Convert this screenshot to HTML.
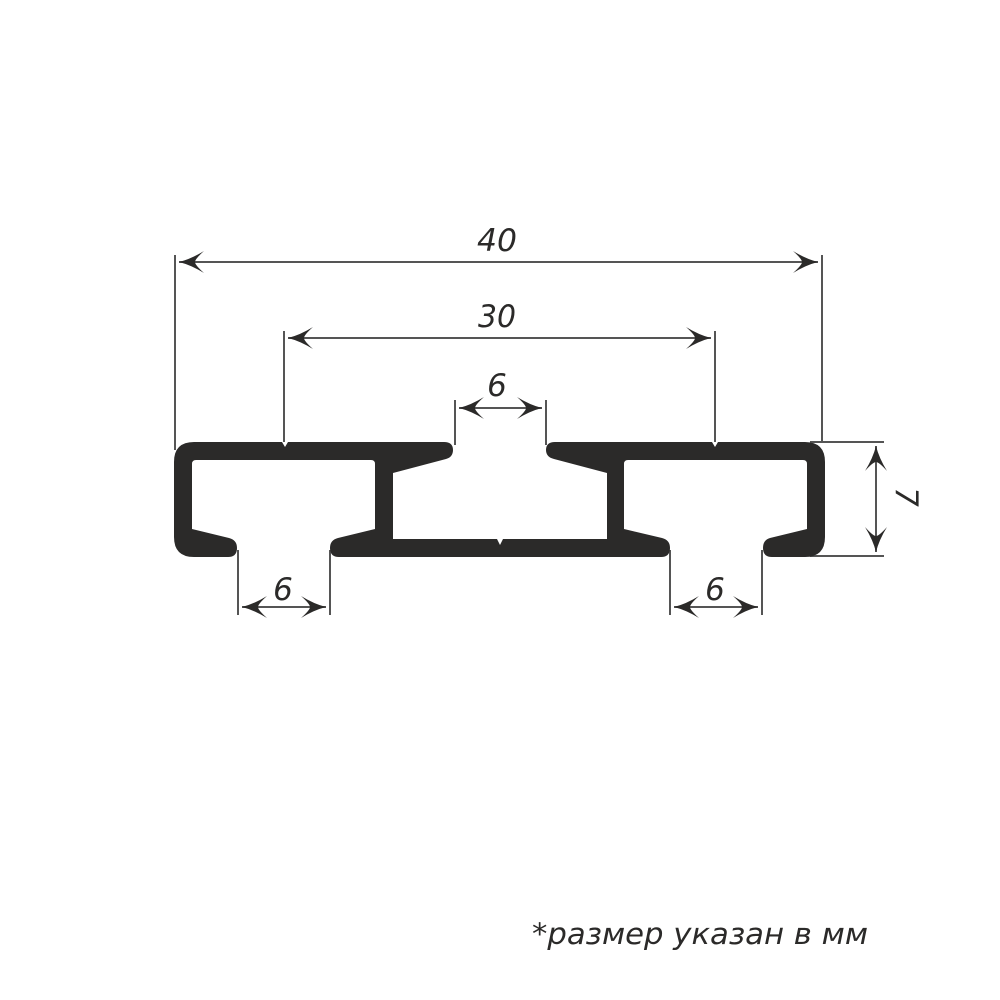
<!DOCTYPE html>
<html><head><meta charset="utf-8"><style>html,body{margin:0;padding:0;background:#fff}svg{display:block}</style></head>
<body>
<svg width="1000" height="1000" viewBox="0 0 1000 1000" xmlns="http://www.w3.org/2000/svg">
<defs>
<path id="ah" d="M0,0 Q12,-3 25,-11 Q16,-3 16,0 Q16,3 25,11 Q12,3 0,0 Z" fill="#2b2a29"/>
</defs>
<g stroke="#555" stroke-width="2" fill="none">
<line x1="175" y1="255" x2="175" y2="450"/>
<line x1="822" y1="255" x2="822" y2="442"/>
<line x1="179" y1="262" x2="818" y2="262"/>
<line x1="284" y1="331" x2="284" y2="442"/>
<line x1="715" y1="331" x2="715" y2="442"/>
<line x1="288" y1="338" x2="711" y2="338"/>
<line x1="455" y1="400" x2="455" y2="445"/>
<line x1="546" y1="400" x2="546" y2="445"/>
<line x1="459" y1="408" x2="542" y2="408"/>
<line x1="238" y1="550" x2="238" y2="615"/>
<line x1="330" y1="550" x2="330" y2="615"/>
<line x1="242" y1="607" x2="326" y2="607"/>
<line x1="670" y1="550" x2="670" y2="615"/>
<line x1="762" y1="550" x2="762" y2="615"/>
<line x1="674" y1="607" x2="758" y2="607"/>
<line x1="810" y1="442" x2="884" y2="442"/>
<line x1="810" y1="556" x2="884" y2="556"/>
<line x1="876" y1="446" x2="876" y2="552"/>
</g>
<use href="#ah" transform="translate(179,262)"/>
<use href="#ah" transform="translate(818,262) rotate(180)"/>
<use href="#ah" transform="translate(288,338)"/>
<use href="#ah" transform="translate(711,338) rotate(180)"/>
<use href="#ah" transform="translate(459,408)"/>
<use href="#ah" transform="translate(542,408) rotate(180)"/>
<use href="#ah" transform="translate(242,607)"/>
<use href="#ah" transform="translate(326,607) rotate(180)"/>
<use href="#ah" transform="translate(674,607)"/>
<use href="#ah" transform="translate(758,607) rotate(180)"/>
<use href="#ah" transform="translate(876,446) rotate(90)"/>
<use href="#ah" transform="translate(876,552) rotate(-90)"/>
<path fill="#2b2a29" d="M174,462 Q174,442 194,442 L282,442 L285,447 L288,442 L444,442 Q453,442 453,450 Q453,457 446,459 L393,473 L393,539 L497,539 L500,545 L503,539 L607,539 L607,473 L554,459 Q546,457 546,450 Q546,442 555,442 L712,442 L715,447 L718,442 L805,442 Q825,442 825,462 L825,537 Q825,557 805,557 L772,557 Q763,557 763,548 Q763,540 770,538 L807,529 L807,464 Q807,460 803,460 L628,460 Q624,460 624,464 L624,529 L662,538 Q670,540 670,548 Q670,557 661,557 L339,557 Q330,557 330,548 Q330,540 338,538 L375,529 L375,464 Q375,460 371,460 L196,460 Q192,460 192,464 L192,529 L229,538 Q237,540 237,548 Q237,557 228,557 L194,557 Q174,557 174,537 Z"/>
<g font-family="DejaVu Sans, Liberation Sans, sans-serif" font-style="italic" fill="#2b2a29" font-size="31" text-anchor="middle">
<text x="497" y="251" textLength="40" lengthAdjust="spacingAndGlyphs">40</text>
<text x="497" y="327" textLength="38" lengthAdjust="spacingAndGlyphs">30</text>
<text x="497" y="396">6</text>
<text x="283" y="600">6</text>
<text x="715" y="600">6</text>
<text transform="translate(896,497) rotate(90)" x="0" y="0">7</text>
</g>
<text x="532" y="944" font-family="DejaVu Sans, Liberation Sans, sans-serif" font-style="italic" font-size="29" fill="#2b2a29" textLength="336" lengthAdjust="spacingAndGlyphs">*размер  указан  в  мм</text>
</svg>
</body></html>
